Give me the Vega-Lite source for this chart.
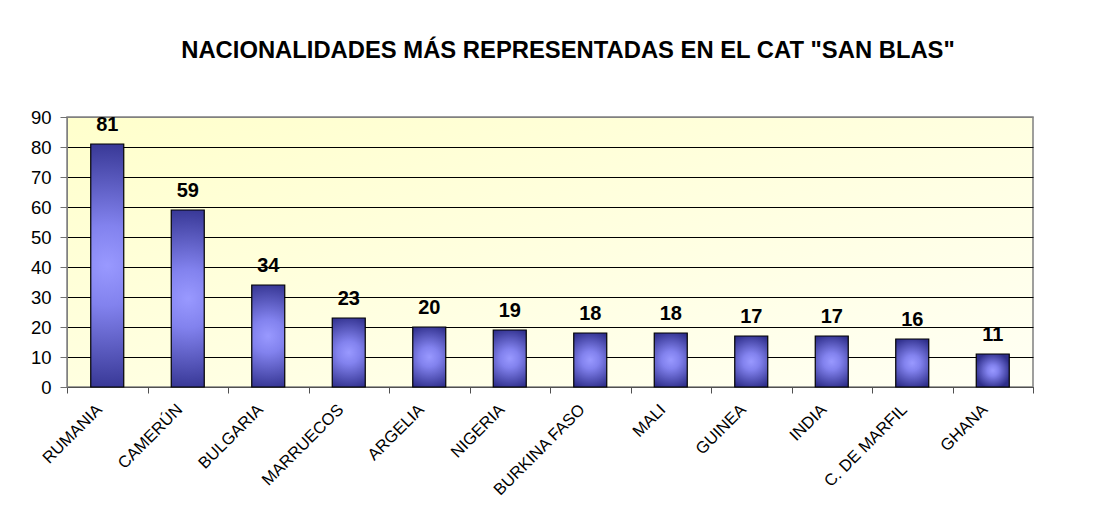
{
  "$schema": "https://vega.github.io/schema/vega-lite/v6.json",
  "width": 966,
  "height": 270,
  "autosize": {"type": "none"},
  "padding": {"left": 67, "top": 117, "right": 80, "bottom": 118},
  "background": "white",
  "title": {
    "text": "NACIONALIDADES MÁS REPRESENTADAS EN EL CAT \"SAN BLAS\"",
    "font": "Liberation Sans",
    "fontSize": 23.8,
    "fontWeight": "bold",
    "color": "black",
    "anchor": "middle",
    "frame": "group",
    "baseline": "alphabetic",
    "dx": 18,
    "offset": 26
  },
  "data": {
    "values": [
      {"pais": "RUMANIA", "n": 81},
      {"pais": "CAMERÚN", "n": 59},
      {"pais": "BULGARIA", "n": 34},
      {"pais": "MARRUECOS", "n": 23},
      {"pais": "ARGELIA", "n": 20},
      {"pais": "NIGERIA", "n": 19},
      {"pais": "BURKINA FASO", "n": 18},
      {"pais": "MALI", "n": 18},
      {"pais": "GUINEA", "n": 17},
      {"pais": "INDIA", "n": 17},
      {"pais": "C. DE MARFIL", "n": 16},
      {"pais": "GHANA", "n": 11}
    ]
  },
  "encoding": {
    "x": {
      "field": "pais",
      "type": "nominal",
      "sort": null,
      "scale": {"paddingInner": 0, "paddingOuter": 0},
      "axis": {
        "title": null,
        "labelAngle": -45,
        "labelAlign": "right",
        "labelBaseline": "top",
        "labelFont": "Liberation Sans",
        "labelFontSize": 16.5,
        "labelColor": "black",
        "labelPadding": 8,
        "labelOffset": -14,
        "tickBand": "extent",
        "tickSize": 6,
        "tickColor": "#505050",
        "domainColor": "#505050",
        "labelOverlap": false
      }
    },
    "y": {
      "field": "n",
      "type": "quantitative",
      "scale": {"domain": [0, 90], "nice": false},
      "axis": {
        "title": null,
        "values": [0, 10, 20, 30, 40, 50, 60, 70, 80, 90],
        "labelFont": "Liberation Sans",
        "labelFontSize": 18.5,
        "labelColor": "black",
        "labelPadding": 9,
        "tickSize": 7,
        "tickColor": "#707070",
        "domainColor": "#808080",
        "grid": true,
        "gridColor": {"condition": {"test": "datum.value === 90", "value": "#808080"}, "value": "black"},
        "gridOpacity": 1,
        "gridWidth": 1
      }
    }
  },
  "layer": [
    {
      "mark": {
        "type": "bar",
        "width": {"band": 0.41},
        "stroke": "black",
        "strokeWidth": 1.2,
        "fill": {
          "gradient": "radial",
          "x1": 0.5, "y1": 0.5, "r1": 0,
          "x2": 0.5, "y2": 0.5, "r2": 0.55,
          "stops": [
            {"offset": 0, "color": "#9999ff"},
            {"offset": 0.3, "color": "#8282ee"},
            {"offset": 1, "color": "#2e2e8a"}
          ]
        }
      }
    },
    {
      "mark": {
        "type": "text",
        "font": "Liberation Sans",
        "fontSize": 20,
        "fontWeight": "bold",
        "color": "black",
        "baseline": "alphabetic",
        "dy": -13
      },
      "encoding": {"text": {"field": "n", "type": "quantitative"}}
    }
  ],
  "config": {
    "view": {
      "stroke": "#808080",
      "strokeWidth": 1.5,
      "fill": {
        "gradient": "linear",
        "x1": 0, "y1": 0, "x2": 1, "y2": 1,
        "stops": [
          {"offset": 0, "color": "#ffffcc"},
          {"offset": 1, "color": "#fffff4"}
        ]
      }
    }
  }
}
